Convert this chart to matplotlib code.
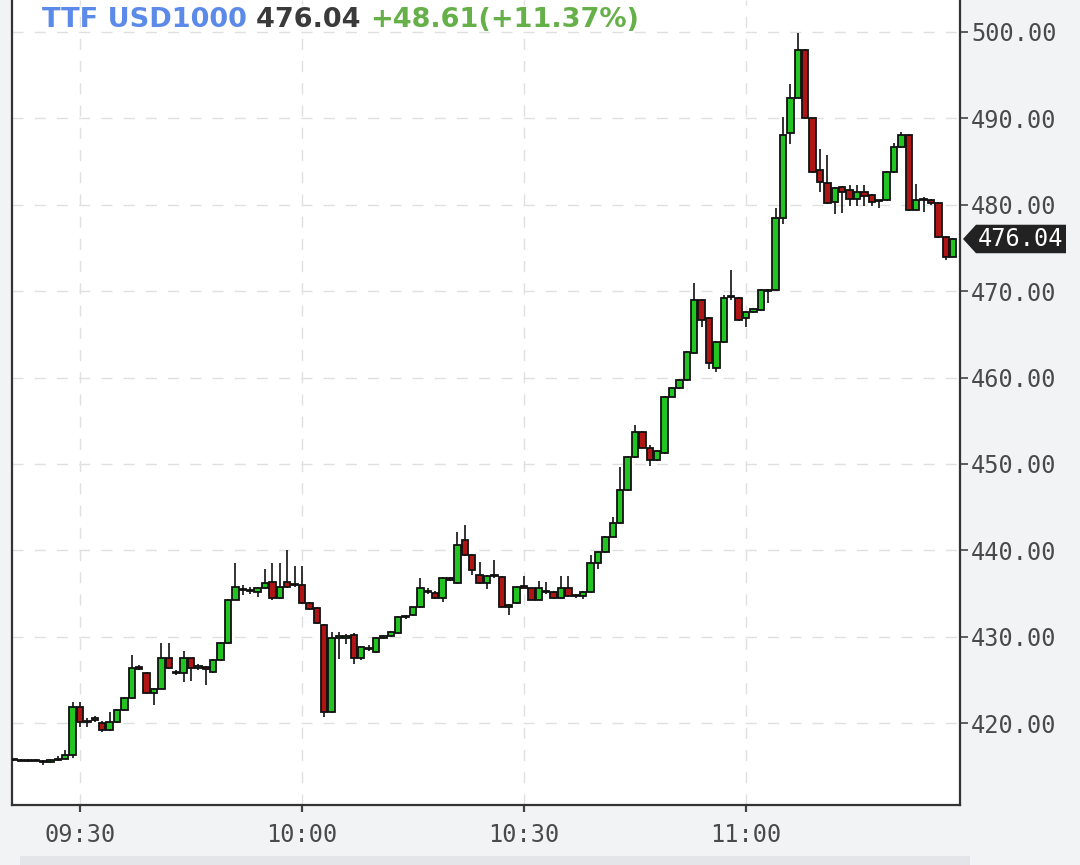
import matplotlib
matplotlib.use("Agg")
import matplotlib.dates as mdates
import matplotlib.pyplot as plt
import matplotlib.transforms as mtransforms
from matplotlib.patches import Polygon, Rectangle
import numpy as np
import pandas as pd

# 1-minute candles, 09:21 .. 11:28
start = "2021-10-05 09:21"
opens = [415.7, 415.7, 415.6, 415.7, 415.6, 415.5, 415.7, 415.9, 416.3,
         421.9, 420.2, 420.4, 420.0, 419.2, 420.1, 421.5, 422.9, 426.4, 425.8,
         423.5, 424.0, 427.5, 425.9, 425.8, 427.5, 426.4, 426.5, 425.9, 427.3,
         429.3, 434.3, 435.5, 435.4, 435.2, 435.6, 436.3, 434.5, 436.3, 436.0,
         436.0, 433.9, 433.3, 431.4, 421.3, 429.9, 429.9, 430.2, 427.5, 428.7,
         428.2, 429.9, 430.1, 430.4, 432.3, 432.5, 433.4, 435.3, 435.1, 434.5,
         436.7, 436.2, 441.2, 439.5, 437.2, 436.2, 437.0, 436.9, 433.5, 433.9,
         435.8, 435.6, 434.3, 435.3, 435.2, 434.5, 435.6, 434.7, 434.7, 435.2,
         438.5, 439.8, 441.6, 443.2, 447.0, 450.8, 453.7, 451.9, 450.5, 451.3,
         457.8, 458.8, 459.7, 462.8, 469.0, 466.9, 461.1, 464.1, 469.3, 469.2,
         466.9, 467.6, 467.8, 470.1, 470.1, 478.5, 488.3, 492.4, 497.9, 490.0,
         484.0, 482.5, 480.3, 482.1, 481.7, 480.7, 481.5, 481.1, 480.4, 480.5,
         483.8, 486.7, 488.1, 479.4, 480.6, 480.5, 480.2, 476.3, 474.0]
highs = [415.8, 415.8, 415.8, 415.8, 415.7, 415.8, 416.2, 416.9, 422.5,
         422.5, 420.6, 420.8, 420.2, 421.3, 421.6, 423.0, 427.9, 426.7, 425.9,
         424.1, 429.3, 429.3, 426.1, 428.4, 427.6, 426.9, 426.6, 427.4, 429.4,
         434.4, 438.5, 436.0, 435.8, 435.8, 437.8, 438.5, 438.5, 440.0, 438.2,
         438.2, 434.0, 433.4, 431.5, 430.5, 430.5, 430.3, 430.4, 428.9, 429.0,
         430.0, 430.2, 430.7, 432.4, 432.5, 433.5, 436.8, 435.6, 435.3, 436.9,
         436.9, 442.1, 442.9, 439.6, 438.7, 437.1, 438.9, 437.0, 433.8, 435.9,
         437.0, 435.7, 436.5, 436.3, 435.3, 437.0, 437.0, 434.9, 435.3, 439.5,
         439.9, 441.7, 443.9, 449.7, 450.9, 454.5, 453.8, 452.2, 451.6, 457.9,
         458.9, 459.8, 463.1, 471.0, 469.1, 467.0, 464.2, 469.6, 472.5, 469.3,
         467.7, 468.0, 470.2, 470.3, 479.6, 490.2, 494.0, 499.9, 498.0, 490.1,
         486.5, 485.8, 482.1, 482.2, 482.3, 482.3, 482.3, 481.3, 480.6, 483.9,
         487.2, 488.4, 488.2, 482.4, 480.9, 480.7, 480.3, 476.4, 476.2]
lows = [415.6, 415.6, 415.5, 415.6, 415.2, 415.4, 415.6, 415.8, 416.0,
        419.6, 419.5, 420.1, 419.0, 419.1, 420.0, 421.4, 422.8, 426.1, 423.4,
        422.1, 423.9, 426.3, 425.6, 424.8, 424.9, 426.1, 424.4, 425.8, 427.2,
        429.2, 434.2, 434.8, 434.9, 434.6, 435.5, 434.2, 434.4, 435.7, 435.8,
        433.8, 433.1, 431.5, 420.7, 421.2, 427.4, 429.2, 426.9, 427.3, 428.3,
        428.1, 429.7, 430.0, 430.3, 432.1, 432.4, 433.3, 435.0, 434.4, 434.0,
        436.5, 436.1, 439.4, 437.2, 436.1, 435.5, 436.8, 433.4, 432.5, 433.8,
        435.6, 434.2, 434.2, 435.0, 434.4, 434.4, 434.6, 434.5, 434.4, 435.1,
        437.8, 439.7, 441.5, 443.1, 446.9, 450.7, 451.8, 449.8, 450.4, 451.2,
        457.7, 458.7, 459.6, 462.7, 465.8, 461.0, 460.6, 464.0, 469.0, 466.5,
        465.8, 467.5, 467.7, 468.6, 470.0, 477.8, 487.0, 492.3, 489.9, 483.7,
        481.5, 480.1, 478.9, 479.0, 479.8, 479.8, 479.8, 479.9, 479.6, 480.4,
        483.7, 486.6, 479.3, 479.3, 479.2, 480.0, 476.2, 473.6, 473.9]
closes = [415.7, 415.6, 415.7, 415.6, 415.5, 415.7, 415.9, 416.3, 421.9,
          420.1, 420.1, 420.5, 419.2, 420.1, 421.5, 422.9, 426.4, 426.3, 423.5,
          424.0, 427.5, 426.4, 425.8, 427.5, 426.4, 426.6, 426.3, 427.3, 429.3,
          434.3, 435.8, 435.4, 435.3, 435.6, 436.2, 434.5, 435.8, 435.8, 436.1,
          433.9, 433.2, 431.6, 421.3, 429.9, 430.0, 430.1, 427.5, 428.8, 428.6,
          429.9, 430.0, 430.6, 432.3, 432.3, 433.4, 435.6, 435.2, 434.5, 436.8,
          436.6, 440.6, 439.5, 437.7, 436.2, 437.0, 437.0, 433.5, 433.7, 435.8,
          435.7, 434.3, 435.6, 435.2, 434.5, 435.6, 434.7, 434.8, 435.2, 438.5,
          439.8, 441.6, 443.2, 447.0, 450.8, 453.7, 451.9, 450.5, 451.5, 457.8,
          458.8, 459.7, 463.0, 469.0, 466.7, 461.7, 464.1, 469.2, 469.4, 466.7,
          467.6, 467.9, 470.1, 470.0, 478.5, 488.1, 492.4, 497.9, 490.0, 483.8,
          482.6, 480.2, 481.9, 481.5, 480.7, 481.5, 481.0, 480.3, 480.5, 483.8,
          486.7, 488.1, 479.4, 480.6, 480.5, 480.2, 476.3, 474.0, 476.04]

symbol = "TTF USD1000"
prev_close = 427.43
y_ticks = [420, 430, 440, 450, 460, 470, 480, 490, 500]
x_ticks = ["09:30", "10:00", "10:30", "11:00"]

UP = "#22c422"
DOWN = "#b01515"
BG = "#f2f3f5"

times = pd.date_range(start, periods=len(opens), freq="min")
t = mdates.date2num(times.to_pydatetime())
o = np.array(opens)
c = np.array(closes)
day = pd.Timestamp(start).strftime("%Y-%m-%d")
one_min = 1 / 1440

fig = plt.figure(figsize=(10.8, 8.65), dpi=100, facecolor=BG)
ax = fig.add_axes([12 / 1080, 60 / 865, 948 / 1080, 805 / 865])
ax.set_facecolor("white")

# scrollbar strip at the bottom
fig.patches.append(Rectangle((20 / 1080, 0), 950 / 1080, 9 / 865, transform=fig.transFigure,
                             facecolor="#e4e5e8", edgecolor="none"))

ax.vlines(t, lows, highs, color="#111111", linewidth=1.2, zorder=2)
colors = np.where(c >= o, UP, DOWN)
body = np.maximum(np.abs(c - o), 0.15)
ax.bar(t, body, bottom=np.minimum(o, c), width=0.84 * one_min, color=colors,
       edgecolor="#111111", linewidth=1.3, zorder=3)

ax.set_xlim(t[0] - 0.19 * one_min, t[-1] + 0.92 * one_min)
ax.set_ylim(410.53, 503.7)

tick_pos = mdates.date2num([pd.Timestamp(f"{day} {s}") for s in x_ticks])
ax.set_xticks(tick_pos)
ax.set_xticklabels(x_ticks)
ax.yaxis.tick_right()
ax.set_yticks(y_ticks)
ax.set_yticklabels([f"{v:.2f}" for v in y_ticks])

for lab in ax.get_xticklabels() + ax.get_yticklabels():
    lab.set_family("DejaVu Sans Mono")
    lab.set_fontsize(17)
    lab.set_color("#4a4a4a")
ax.tick_params(axis="y", length=6, width=1.2, color="#444444", pad=2)
ax.tick_params(axis="x", length=5, width=1.6, color="#444444", pad=8)

ax.grid(True, color="#e0e0e0", linewidth=1.0, linestyle=(0, (8, 8)))
ax.set_axisbelow(True)
for side in ["left", "bottom", "right"]:
    ax.spines[side].set_color("#333333")
    ax.spines[side].set_linewidth(1.6)
ax.spines["top"].set_visible(False)

# last price tag
last = closes[-1]
tr = mtransforms.blended_transform_factory(fig.transFigure, ax.transData)
h = 1.65
x0, x1, x2 = 963 / 1080, 976 / 1080, 1066 / 1080
tag = Polygon([[x0, last], [x1, last + h], [x2, last + h], [x2, last - h], [x1, last - h]],
              closed=True, transform=tr, facecolor="#222222", edgecolor="none", clip_on=False)
ax.add_patch(tag)
ax.text(1021 / 1080, last, f"{last:.2f}", transform=tr, ha="center", va="center",
        family="DejaVu Sans Mono", fontsize=17, color="white", clip_on=False)

# header
chg = last - prev_close
pct = chg / prev_close * 100
parts = [(symbol + " ", "#5b8ae8"), (f"{last:.2f} ", "#3a3a3a"),
         (f"{chg:+.2f}({pct:+.2f}%)", "#66b04a")]
fig.canvas.draw()
renderer = fig.canvas.get_renderer()
xpos = 42 / 1080
for txt, col in parts:
    tx = fig.text(xpos, 1 - 20 / 865, txt, ha="left", va="center", fontsize=19.5,
                  fontweight="bold", color=col, family="DejaVu Sans")
    bb = tx.get_window_extent(renderer=renderer)
    xpos += bb.width / fig.bbox.width

fig.savefig("out.png", dpi=100, facecolor=BG)
